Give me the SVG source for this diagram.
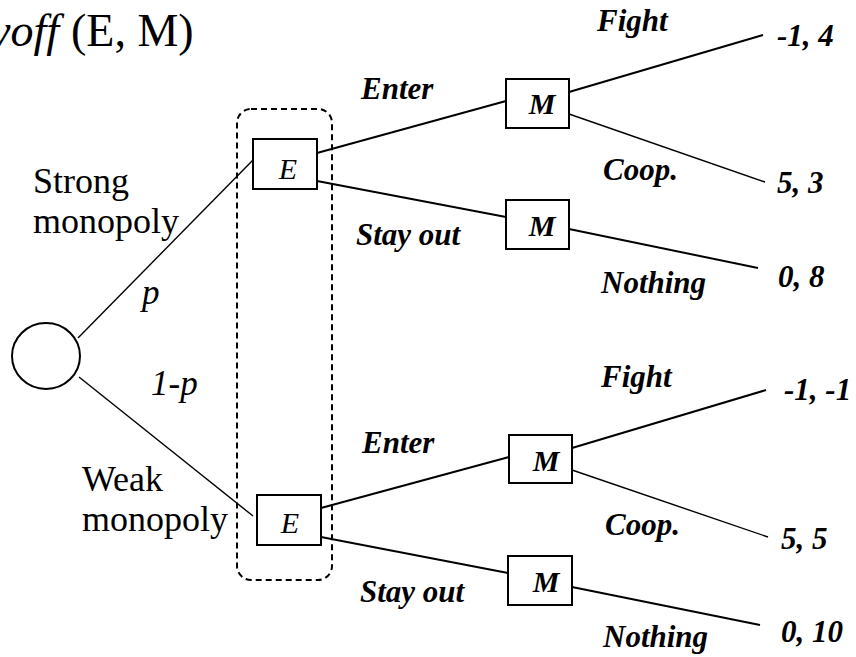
<svg xmlns="http://www.w3.org/2000/svg" width="856" height="657" viewBox="0 0 856 657">
<style>
.box{fill:#fff;stroke:#000;stroke-width:2}
.ln{stroke:#000;stroke-width:2;fill:none}
.thin{stroke:#000;stroke-width:1.4;fill:none}
</style>
<rect width="856" height="657" fill="#fff"/>
<g id="title" font-family="'Liberation Serif', 'Times New Roman', serif" fill="#000">
<text x="59" y="46" font-size="46" font-style="italic" text-anchor="end">Payoff</text>
<text x="71" y="46" font-size="46">(E, M)</text>
</g>
<g id="connectors">
<line class="thin" x1="78" y1="338" x2="253" y2="160"/>
<line class="thin" x1="79" y1="377" x2="253" y2="516"/>
<line class="ln" x1="317" y1="153" x2="506" y2="101"/>
<line class="ln" x1="317" y1="181" x2="506" y2="217"/>
<line class="ln" x1="569" y1="92" x2="763" y2="35"/>
<line class="thin" x1="569" y1="114" x2="765" y2="182"/>
<line class="ln" x1="569" y1="229" x2="758" y2="268"/>
<line class="ln" x1="321" y1="508" x2="509" y2="457"/>
<line class="ln" x1="321" y1="537" x2="508" y2="573"/>
<line class="ln" x1="572" y1="448" x2="766" y2="390"/>
<line class="thin" x1="572" y1="470" x2="768" y2="537"/>
<line class="ln" x1="572" y1="587" x2="760" y2="625"/>
</g>
<g id="infoset">
<rect x="237" y="109" width="95" height="471" rx="14" fill="none" stroke="#000" stroke-width="2" stroke-dasharray="6 4"/>
</g>
<g id="chance">
<ellipse cx="46" cy="356" rx="34" ry="33" fill="#fff" stroke="#000" stroke-width="2"/>
</g>
<g font-family="'Liberation Serif', 'Times New Roman', serif" fill="#000" font-size="30" font-style="italic" text-anchor="middle">
<g id="E1">
<rect class="box" x="253" y="139" width="64" height="50"/>
<text x="288" y="179">E</text>
</g>
<g id="E2">
<rect class="box" x="257" y="495" width="64" height="50"/>
<text x="290" y="533">E</text>
</g>
<g id="M1">
<rect class="box" x="506" y="79" width="63" height="49"/>
<text x="542" y="114" font-weight="bold">M</text>
</g>
<g id="M2">
<rect class="box" x="506" y="200" width="63" height="49"/>
<text x="542" y="236" font-weight="bold">M</text>
</g>
<g id="M3">
<rect class="box" x="509" y="435" width="63" height="48"/>
<text x="546" y="471" font-weight="bold">M</text>
</g>
<g id="M4">
<rect class="box" x="508" y="556" width="64" height="49"/>
<text x="546" y="592" font-weight="bold">M</text>
</g>
</g>
<g id="labels" font-family="'Liberation Serif', 'Times New Roman', serif" fill="#000">
<g font-size="36">
<text x="33" y="193">Strong</text>
<text x="33" y="233">monopoly</text>
<text x="82" y="491">Weak</text>
<text x="82" y="531">monopoly</text>
</g>
<g font-size="35" font-style="italic">
<text x="142" y="304">p</text>
<text x="151" y="395">1-p</text>
</g>
<g font-size="31" font-style="italic" font-weight="bold">
<text x="361" y="99">Enter</text>
<text x="356" y="245">Stay out</text>
<text x="362" y="453">Enter</text>
<text x="360" y="602">Stay out</text>
<text x="597" y="31">Fight</text>
<text x="603" y="180">Coop.</text>
<text x="601" y="293">Nothing</text>
<text x="601" y="387">Fight</text>
<text x="605" y="535">Coop.</text>
<text x="603" y="647">Nothing</text>
</g>
</g>
<g id="payoffs" font-family="'Liberation Serif', 'Times New Roman', serif" fill="#000" font-size="31" font-style="italic" font-weight="bold">
<text x="777" y="46">-1, 4</text>
<text x="777" y="193">5, 3</text>
<text x="778" y="287">0, 8</text>
<text x="784" y="400">-1, -1</text>
<text x="781" y="549">5, 5</text>
<text x="781" y="642">0, 10</text>
</g>
</svg>
